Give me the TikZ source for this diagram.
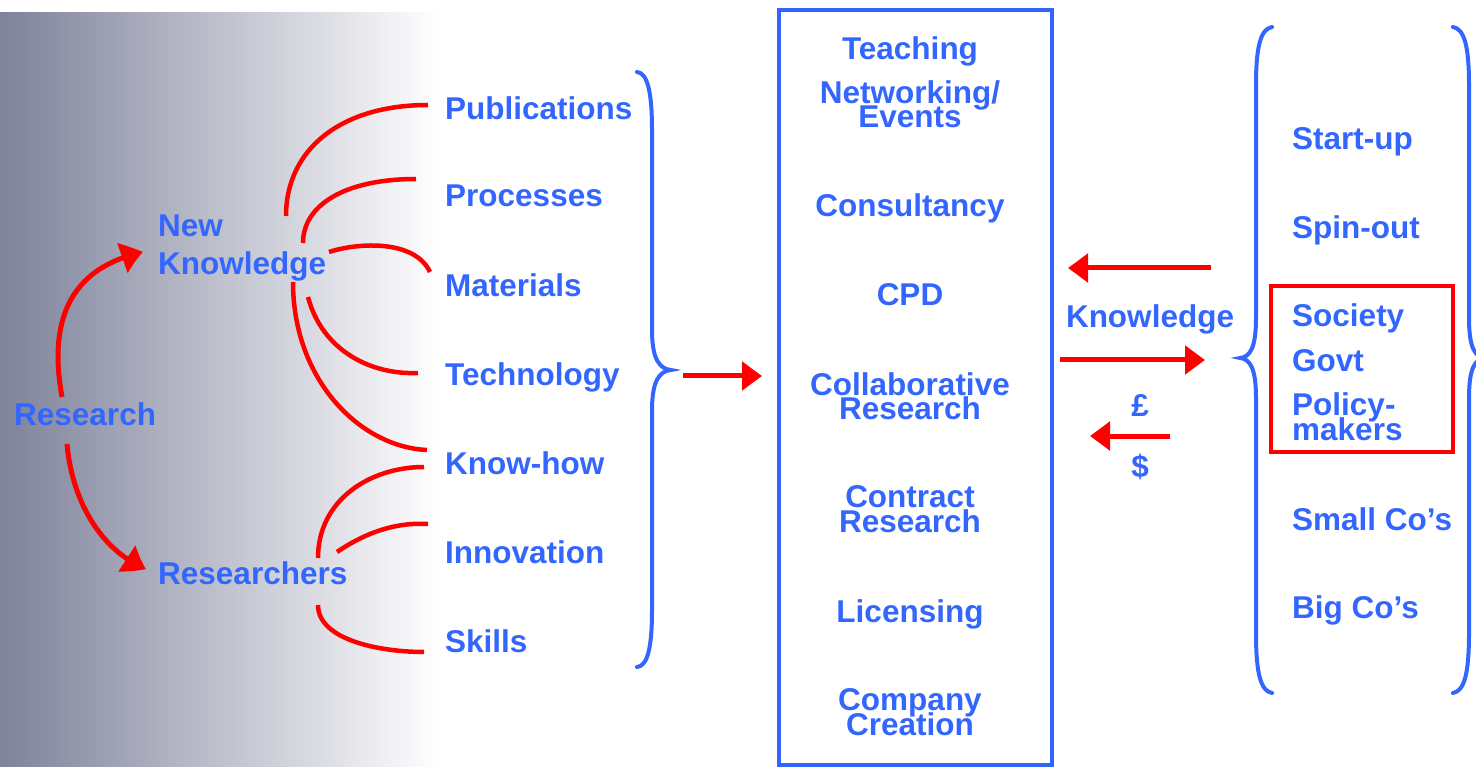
\documentclass[tikz,border=0pt]{standalone}
\usepackage{fontspec}
\setmainfont{Liberation Sans}
\usetikzlibrary{arrows.meta,bending}
\definecolor{tblue}{RGB}{51,102,255}
\definecolor{tred}{RGB}{255,0,0}
\definecolor{bgl}{RGB}{126,130,154}
\setlength{\lineskiplimit}{-50pt}
\setlength{\lineskip}{0pt}
\begin{document}
\begin{tikzpicture}[x=1pt,y=-1pt,
  lbl/.style={text=tblue, font=\bfseries\fontsize{31.5}{24.5}\selectfont, inner sep=0pt},
  cl/.style={lbl, anchor=base, align=center},
  ll/.style={lbl, anchor=base west, align=left},
  link/.style={draw=tred, line width=4.5pt},
  arr/.style={draw=tred, line width=5pt, -{Triangle[length=20pt,width=28pt]}},
  carr/.style={draw=tred, line width=5pt, -{Triangle[length=22pt,width=30pt,bend]}},
  bracepath/.style={draw=tblue, line width=4pt, line cap=round},
  boxline/.style={draw=tblue, line width=4pt, inner sep=0pt},
]
\useasboundingbox (0,0) rectangle (1476,767);
\clip (0,0) rectangle (1476,767);
% background gradient
\fill[left color=bgl, right color=white] (0,13) rectangle (440,767);

% left column (multi-line nodes: base = last line)
\node[ll] (res) at (14,425) {Research};
\node[ll, font=\bfseries\fontsize{31.5}{38}\selectfont] (nk) at (158,275) {New\\Knowledge};
\node[ll] (rsr) at (158,584) {Researchers};

% outputs
\node[ll] (pub) at (445,120) {Publications};
\node[ll] (proc) at (445,207) {Processes};
\node[ll] (mat) at (445,297) {Materials};
\node[ll] (tech) at (445,386) {Technology};
\node[ll] (kh) at (445,474) {Know-how};
\node[ll] (inn) at (445,563) {Innovation};
\node[ll] (sk) at (445,652) {Skills};

% middle box
\node[boxline, minimum width=273pt, minimum height=755pt] (box) at (915.5,387.5) {};
\node[cl] (teach) at (910,60) {Teaching};
\node[cl] (net) at (910,128) {Networking/\\Events};
\node[cl] (cons) at (910,217) {Consultancy};
\node[cl] (cpd) at (910,306) {CPD};
\node[cl] (collab) at (910,420) {Collaborative\\Research};
\node[cl] (contr) at (910,532) {Contract\\Research};
\node[cl] (lic) at (910,622) {Licensing};
\node[cl] (comp) at (910,735) {Company\\Creation};

% exchange column
\node[cl] (know) at (1150,328) {Knowledge};
\node[cl] (pound) at (1140,417) {£};
\node[cl] (dollar) at (1140,477) {\$};

% right column
\node[draw=tred, line width=4.5pt, inner sep=0pt, minimum width=182pt, minimum height=166pt] (rbox) at (1362,369) {};
\node[ll] (start) at (1292,150) {Start-up};
\node[ll] (spin) at (1292,239) {Spin-out};
\node[ll] (soc) at (1292,327) {Society};
\node[ll] (govt) at (1292,372) {Govt};
\node[ll] (pol) at (1292,440) {Policy-\\makers};
\node[ll] (small) at (1292,530) {Small Co’s};
\node[ll] (big) at (1292,618) {Big Co’s};

% curved arrows from Research
\coordinate (r1s) at (62,397);
\coordinate (r1e) at (143,252);
\coordinate (r2s) at (67,444);
\coordinate (r2e) at (146,569);
\draw[carr] (r1s) .. controls (48,320) and (70,268) .. (r1e);
\draw[carr] (r2s) .. controls (72,500) and (100,550) .. (r2e);

% links from New Knowledge
\coordinate (n1) at (286,216);  \coordinate (p1) at (428,105);
\coordinate (n2) at (303,243);  \coordinate (p2) at (416,179);
\coordinate (n3) at (329,252);  \coordinate (p3) at (430,272);
\coordinate (n4) at (308,297);  \coordinate (p4) at (418,373);
\coordinate (n5) at (293,282);  \coordinate (p5) at (427,450);
\draw[link] (n1) .. controls (286,150) and (340,105) .. (p1);
\draw[link] (n2) .. controls (303,205) and (345,179) .. (p2);
\draw[link] (n3) .. controls (360,242) and (415,240) .. (p3);
\draw[link] (n4) .. controls (322,350) and (370,375) .. (p4);
\draw[link] (n5) .. controls (293,380) and (360,447) .. (p5);

% links from Researchers
\coordinate (m1) at (318,558);  \coordinate (q1) at (424,467);
\coordinate (m2) at (337,552);  \coordinate (q2) at (428,524);
\coordinate (m3) at (318,605);  \coordinate (q3) at (424,652);
\draw[link] (m1) .. controls (318,500) and (370,467) .. (q1);
\draw[link] (m2) .. controls (365,533) and (395,522) .. (q2);
\draw[link] (m3) .. controls (318,640) and (380,652) .. (q3);

% braces
\draw[bracepath] (637,72) .. controls (647,73) and (652,90) .. (652,130) -- (652,330)
  .. controls (652,360) and (660,369) .. (671,370)
  .. controls (660,371) and (652,380) .. (652,410) -- (652,610)
  .. controls (652,650) and (647,666) .. (637,667);
\draw[bracepath] (1272,27) .. controls (1261,29) and (1256,45) .. (1256,85) -- (1256,318)
  .. controls (1256,348) and (1250,357) .. (1240,358)
  .. controls (1250,359) and (1256,368) .. (1256,398) -- (1256,633)
  .. controls (1256,675) and (1261,691) .. (1272,693);
\draw[bracepath] (1453,27) .. controls (1464,29) and (1469,45) .. (1469,85) -- (1469,318)
  .. controls (1469,348) and (1475,357) .. (1485,358)
  .. controls (1475,359) and (1469,368) .. (1469,398) -- (1469,633)
  .. controls (1469,675) and (1464,691) .. (1453,693);

% straight arrows
\coordinate (a1s) at (683,376);  \coordinate (a1e) at (762,376);
\coordinate (a2s) at (1211,268); \coordinate (a2e) at (1068,268);
\coordinate (a3s) at (1060,360); \coordinate (a3e) at (1205,360);
\coordinate (a4s) at (1170,436); \coordinate (a4e) at (1090,436);
\draw[arr] (a1s) -- (a1e);
\draw[arr] (a2s) -- (a2e);
\draw[arr] (a3s) -- (a3e);
\draw[arr] (a4s) -- (a4e);
\end{tikzpicture}
\end{document}
